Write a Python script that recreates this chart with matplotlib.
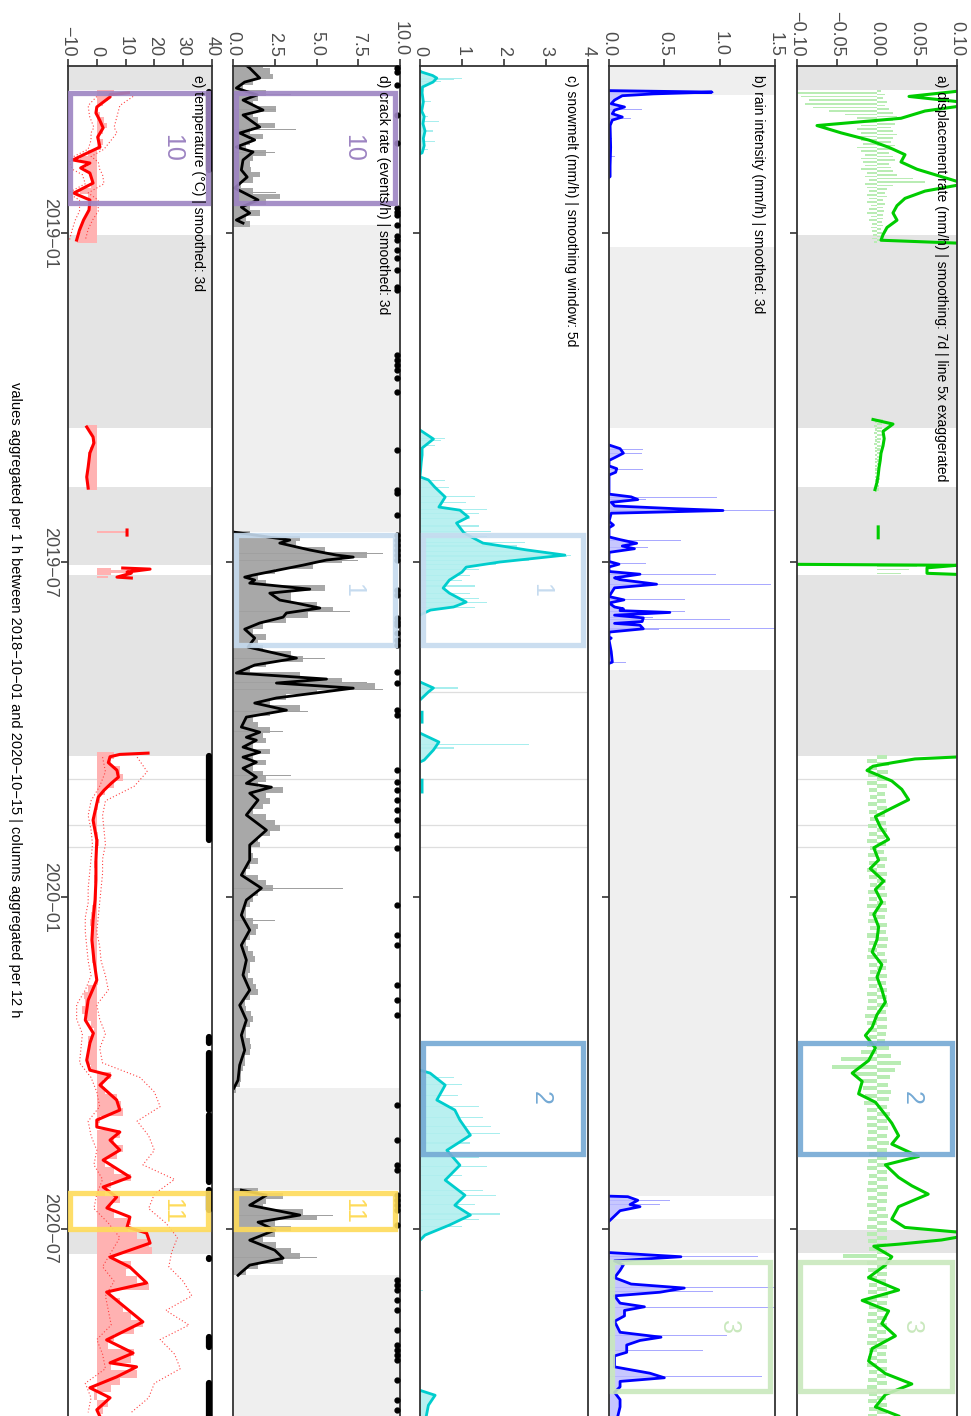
import numpy as np
import matplotlib.pyplot as plt
import matplotlib.transforms as mtransforms
from matplotlib.patches import Rectangle

plt.rcParams['font.family'] = ['Liberation Sans', 'DejaVu Sans']

nan = np.nan

# time runs down the page, in days since 2018-10-01
T0 = np.datetime64('2018-10-01')
DAY_END = 742.0
tick_dates = ['2019-01-01', '2019-07-01', '2020-01-01', '2020-07-01']
tick_labels = ['2019−01', '2019−07', '2020−01', '2020−07']
tick_days = [int((np.datetime64(d) - T0).astype(int)) for d in tick_dates]

caption = ('values aggregated per 1 h between 2018−10−01 and 2020−10−15 | '
           'columns aggregated per 12 h')

# ---------------- a) displacement rate (mm/h) ----------------
a_days = [13, 17, 21, 25, 29, 33, 37, 41, 45, 49, 53, 57, 61, 65, 69, 73, 77, 81, 85,
          89, 93, 96, 98, nan,
          194.5, 197, 201, 205, 209, 213, 217, 221, 225, 229, 233, nan,
          253.5, 259.5, nan,
          274.0, 274.6, 276, 279, 280, 282, nan,
          379.4, 381, 383, 385, 387.3, 393.1, 397.7, 403.4, 408, 412.6, 418.3, 425.2, 429.8,
          436.6, 441.2, 448.1, 452.7, 459.6, 466.4, 473.3, 480.2, 487.1, 494, 500.8, 507.7,
          514.6, 521.5, 528.4, 532.9, 539.8, 546.7, 553.6, 558.2, 565, 569.6, 576.5, 581.1,
          588, 592.6, 599.4, 604, 610.9, 615.5, 620.1, 627, 633.8, 638.4, 641.9, 645.3,
          647.6, 648.7, 654.5, 659.1, 665.9, 672.8, 678.5, 684.3, 691.2, 698, 704.9, 711.8,
          718.7, 724.4, 730.2, 737, 742]
a_rate = [0.025, 0.008, 0.025, 0.012, 0.006, -0.015, -0.009, -0.002, 0.003, 0.007, 0.006,
          0.010, 0.016, 0.022, 0.012, 0.007, 0.005, 0.004, 0.005, 0.0025, 0.0015, 0.001,
          0.025, nan,
          -0.001, 0.004, 0.0015, 0.0018, 0.0015, 0.001, 0.0008, 0.0005, 0.0003, 0.0, -0.0005, nan,
          0.0003, 0.0003, nan,
          -0.025, 0.02, 0.0125, 0.0125, 0.025, 0.025, nan,
          0.025, 0.0095, 0.004, -0.001, -0.0025, 0.0037, 0.0062, 0.0079, 0.0037, -0.0004,
          0.0008, 0.0029, -0.0008, 0.0004, -0.0017, 0.0017, -0.0004, 0.0012, -0.0008, 0.0004,
          0.0, -0.0012, 0.0012, 0.0, 0.0012, 0.0021, 0.0, -0.0012, -0.0029, -0.0004, -0.0021,
          -0.0062, -0.0037, -0.0046, -0.0004, 0.0021, 0.0037, 0.0054, 0.0037, 0.0104, 0.0021,
          0.0054, 0.0087, 0.0128, 0.0054, 0.0037, 0.007, 0.025, 0.0161, 0.0054, -0.0008,
          0.0037, 0.0021, -0.0021, 0.0054, -0.0037, 0.0029, 0.0012, 0.0046, -0.0012, -0.0021,
          0.0021, 0.0087, 0.0021, -0.0004, 0.0054]
# spread of the 12 h columns (upper / lower ends)
a_hi1 = [0.005, 0.01, 0.008, 0.012, 0.01, 0.015, 0.02,
         0.025, 0.02, 0.022, 0.018, 0.02, 0.025, 0.02, 0.018, 0.022, 0.02, 0.015, 0.02, 0.022,
         0.015, 0.018,
         0.02, 0.025, 0.045, 0.06, 0.02, 0.012, 0.01, 0.012, 0.008, 0.01, 0.008, 0.009, 0.007,
         0.008, 0.006, 0.007, 0.005, 0.006, 0.005, 0.004]
a_lo1 = [-0.1, -0.095, -0.085, -0.09, -0.08, -0.06, -0.04,
         -0.025, -0.03, -0.02, -0.025, -0.02, -0.03, -0.02, -0.018, -0.025, -0.02, -0.015,
         -0.02, -0.018, -0.015, -0.02,
         -0.012, -0.015, -0.01, -0.015, -0.012, -0.01, -0.013, -0.01, -0.012, -0.008, -0.01,
         -0.012, -0.008, -0.01, -0.006, -0.008, -0.006, -0.005, -0.006, -0.004]
a_hi2 = [0.008, 0.006, 0.006, 0.005, 0.006, 0.005, 0.004, 0.005, 0.004, 0.005, 0.004, 0.004,
         0.005, 0.004, 0.004, 0.003, 0.004, 0.003, 0.003, 0.003]
a_lo2 = [-0.003, -0.004, -0.003, -0.004, -0.003, -0.003, -0.004, -0.003, -0.003, -0.002,
         -0.003, -0.003, -0.002, -0.003, -0.002, -0.002, -0.003, -0.002, -0.002, -0.002]
a_cols3_days = [274.5, 275.5, 277, 279]
a_cols3 = [-0.1, 0.05, 0.04, 0.03]
a_hi4 = [0.012, 0.015, 0.014, 0.012, 0.013, 0.010, 0.011, 0.012, 0.010, 0.011,
         0.012, 0.010, 0.011, 0.009, 0.012, 0.010, 0.013, 0.011, 0.010, 0.012,
         0.011, 0.013, 0.010, 0.012, 0.011, 0.014, 0.012, 0.010, 0.013, 0.011,
         0.012, 0.011, 0.013, 0.012, 0.014, 0.011, 0.013, 0.012, 0.011, 0.010,
         0.015, 0.018, 0.030, 0.022, 0.016, 0.014, 0.018, 0.015, 0.013, 0.016,
         0.013, 0.014, 0.012, 0.015, 0.013, 0.012, 0.014, 0.013, 0.012, 0.014,
         0.012, 0.013, 0.011, 0.014, 0.012, 0.013, 0.012, 0.011, 0.013, 0.014,
         0.012, 0.013, 0.011, 0.012, 0.014, 0.012, 0.011, 0.013, 0.012, 0.011,
         0.012, 0.013, 0.011, 0.012, 0.013, 0.011, 0.012, 0.013, 0.011, 0.012, 0.012]
a_lo4 = [-0.012, -0.010, -0.011, -0.012, -0.010, -0.009, -0.011, -0.010, -0.009, -0.011,
         -0.010, -0.012, -0.009, -0.011, -0.010, -0.013, -0.010, -0.009, -0.011, -0.010,
         -0.012, -0.010, -0.011, -0.009, -0.012, -0.010, -0.011, -0.013, -0.010, -0.009,
         -0.011, -0.010, -0.012, -0.011, -0.013, -0.015, -0.012, -0.011, -0.010, -0.012,
         -0.020, -0.045, -0.056, -0.030, -0.020, -0.018, -0.015, -0.016, -0.013, -0.012,
         -0.012, -0.011, -0.013, -0.012, -0.010, -0.011, -0.012, -0.010, -0.011, -0.012,
         -0.011, -0.012, -0.010, -0.011, -0.013, -0.012, -0.011, -0.010, -0.042, -0.012,
         -0.011, -0.012, -0.010, -0.011, -0.012, -0.010, -0.011, -0.012, -0.010, -0.011,
         -0.012, -0.010, -0.011, -0.012, -0.010, -0.011, -0.012, -0.010, -0.011, -0.010, -0.011]
a_gaps = [(0, 13.5), (93, 199.2), (231.6, 274.5), (280, 379.4), (640, 652.6)]

# ---------------- b) rain intensity (mm/h) ----------------
b_days = [13.8, 14.6, 15.6, 16.6, 19, 21, 22.8, 24.5, 26.5, 28.3, 30, 33, 45, 55, 61, 61.5, nan,
          208.5, 210.5, 213, 215.5, 217, 220, 221.5, 223.5, 225, 235.5, 237, 238.5, 240, 242,
          243.5, 244.5, 246, 250.5, 252.5, 254, 259, 260.5, 262.5, 264, 265.5, 267.5, 272.5,
          274, 275.5, 278, 279.5, 281.5, 282.5, 285, 287, 291.8, 293.6, 295.3, 297.5, 298.5,
          299.5, 300.5, 302, 303.5, 305.5, 306.5, 307.5, 309.5, 311.3, 314, 314.6, 315.5,
          322, 327.8, 328.5, nan,
          621.2, 621.5, 623.5, 625.8, 627, 629.2, 632.7, 635, nan,
          652.2, 654.5, 656.8, 659, 662, 666, 669.5, 671.7, 674, 676, 680, 682, 684, 687, 690,
          696, 698.7, 700.5, 703, 707, 709, 715, 718.5, 721, 723, 726, 729, 733, 737, 742]
b_rain = [0, 0.93, 0.4, 0.12, 0.05, 0.02, 0.14, 0.05, 0.03, 0.12, 0.03, 0.01, 0.015, 0.01,
          0.01, 0, nan,
          0, 0.1, 0.13, 0.05, 0, 0, 0.07, 0.06, 0, 0, 0.2, 0.26, 0.02, 0.05, 0.6, 1.03, 0.02,
          0, 0.04, 0, 0, 0.1, 0.25, 0.12, 0.23, 0, 0, 0.09, 0, 0, 0.28, 0.05, 0.1, 0.43, 0.05,
          0, 0.135, 0, 0.05, 0.13, 0.1, 0.55, 0.05, 0.31, 0.3, 0.05, 0.28, 0.31, 0, 0, 0.02,
          0, 0.02, 0.03, 0, nan,
          0, 0.17, 0.26, 0.19, 0.28, 0.1, 0.04, 0, nan,
          0, 0.65, 0.05, 0.13, 0.1, 0.05, 0.2, 0.68, 0.46, 0.05, 0.1, 0.32, 0.14, 0.14, 0.05,
          0.1, 0.47, 0.28, 0.16, 0.16, 0.05, 0.05, 0.37, 0.5, 0.1, 0.1, 0.05, 0.1, 0.1, 0.08]
b_col_days = [14.6, 15, 22.8, 24, 28.3, 29, 40, 50,
              211, 213, 222, 237.5, 238.5, 244.5, 245, 261, 264, 265, 273.5, 279.5, 285, 286,
              293.6, 297.5, 299.7, 300, 303.5, 304.5, 309.5, 310, 327.8,
              623.5, 626, 654.2, 671.5, 673.5, 682.5, 698, 706, 720.5, 731]
b_cols = [0.6, 0.95, 0.4, 0.3, 0.3, 0.2, 0.03, 0.05,
          0.31, 0.3, 0.31, 0.98, 0.33, 1.6, 0.85, 0.65, 0.8, 0.35, 0.33, 0.97, 1.46, 0.45,
          0.69, 0.69, 1.6, 0.69, 0.4, 1.09, 1.6, 0.45, 0.15,
          0.55, 0.46, 1.35, 1.6, 0.94, 1.6, 1.07, 0.85, 1.38, 0.4]
b_gaps = [(0, 16), (99.7, 199.2), (332.2, 621.2), (634, 652.4)]

# ---------------- c) snowmelt (mm/h) ----------------
c_days = [3.0, 3.6, 5.5, 6.9, 9.1, 11.8, 15, 20, 25, 28, 32, 36, 40, 44, 48, 48.5, nan,
          200.3, 205.2, 210.2, 214, 217.9, 226, 227.7, 231.6, 237.1, 242.6, 244.3, 248.1,
          251.4, 256.9, 262.4, 266.2, 269, 270.6, 272.8, 275.6, 278.3, 282.7, 287.1, 289.9,
          294.8, 297.5, 299.2, 301.9, nan,
          338.7, 342, 344.2, 348.6, nan, 355.3, 360.8, nan,
          366.8, 371.7, 376.1, 381.6, 382.7, nan, 392.6, 399.2, nan,
          552, 553.6, 560.2, 568.4, 573.9, 579.4, 587.7, 596, 604.2, 612.4, 620.7, 626.2,
          631.6, 637.1, 642.6, 645.4, nan,
          727.9, 730.6, 736.1, 742]
c_melt = [0, 0.04, 0.3, 0.4, 0.31, 0.06, 0.05, 0.08, 0.04, 0.1, 0.07, 0.12, 0.08, 0.1, 0.05,
          0, nan,
          0, 0.32, 0.05, 0.05, 0.03, 0, 0.2, 0.35, 0.6, 0.45, 0.95, 1.15, 0.87, 1.05, 1.5,
          2.55, 3.45, 2.8, 1.9, 1.1, 1.0, 0.7, 0.55, 0.7, 1.1, 0.8, 0.25, 0.0, nan,
          0, 0.32, 0.2, 0, nan, 0.05, 0.05, nan,
          0, 0.45, 0.32, 0.1, 0, nan, 0.05, 0.05, nan,
          0, 0.24, 0.6, 0.4, 0.83, 0.95, 1.2, 0.64, 0.95, 0.6, 1.07, 0.83, 1.2, 0.7, 0.12, 0,
          nan,
          0, 0.36, 0.2, 0.15]
c_col_days = [6.9, 7.5, 9, 20, 28, 31, 36, 42, 46,
              205, 206, 209, 228, 232, 237, 240, 244, 246, 249, 253, 256, 259, 262, 264, 267,
              269, 270, 272, 274, 277, 280, 283, 286, 290, 293, 295, 298, 342, 373, 375,
              556, 560, 566, 572, 578, 583, 587, 592, 600, 605, 610, 618, 621, 626, 631, 634,
              638, 673]
c_cols = [1.0, 0.8, 0.5, 0.25, 0.2, 0.45, 0.3, 0.35, 0.2,
          0.6, 0.5, 0.35, 0.6, 0.7, 1.3, 1.1, 1.6, 1.4, 1.2, 1.4, 1.7, 1.6, 2.5, 2.3, 3.0,
          3.6, 3.5, 2.6, 1.8, 1.4, 1.2, 1.0, 1.3, 1.2, 1.4, 1.6, 1.3, 0.9, 2.6, 0.8,
          0.8, 1.0, 0.9, 1.4, 1.5, 1.7, 1.9, 1.2, 1.4, 1.6, 1.0, 1.5, 1.8, 1.3, 1.9, 1.4,
          1.0, 0.06]

# ---------------- d) crack rate (events/h) ----------------
d_days = [0, 1.4, 6.9, 9.1, 12.4, 16.2, 19, 24.5, 27.2, 33.8, 37.1, 40.9, 44.8, 47.5, 51.9,
          57.4, 61.3, 67.3, 73.9, 77.8, 81.1, 84.9, 86.6, nan,
          256.3, 260.7, 262.4, 266.2, 269, 270.1, 271.7, 274.5, 280, 281.1, 282.7, 284.4,
          287.7, 289.9, 293.7, 295.4, 298.1, 300.8, 303.1, 306.3, 309.7, 314.6, 319.5, 325.6,
          329.4, 333.8, 337.1, 339.3, 342.1, 347.5, 350.3, 354.2, 358, 363.5, 366.3, 369.1,
          370.7, 374.5, 377.3, 380, 382.8, 386.1, 391, 394.4, 396.5, 399.8, 403.6, 411.8,
          420.1, 428.3, 436.6, 444.8, 452, 458.5, 466.8, 475, 483.3, 491.5, 499.7, 508, 516.3,
          524.5, 532.8, 541, 549.2, 557.5, 561.9, nan,
          617.9, 620.7, 626.2, 631.6, 635.5, 639.9, 645.4, 650.9, 655.3, 659.1, 663, 664.7]
d_rate = [0.8, 1.0, 1.6, 0.7, 0.2, 1.45, 0.6, 1.8, 0.6, 1.6, 0.4, 1.3, 0.2, 1.2, 0.6, 0.5,
          0.85, 0.1, 1.5, 0.5, 1.0, 0.2, 0.6, nan,
          0.0, 3.4, 2.8, 4.6, 6.2, 7.2, 5.6, 4.2, 1.2, 0.7, 1.3, 1.0, 4.6, 2.2, 2.8, 3.8, 5.2,
          3.2, 3.0, 1.6, 0.7, 1.3, 0.9, 3.8, 1.3, 0.2, 5.6, 2.6, 7.2, 2.6, 1.3, 3.2, 0.8, 0.5,
          1.6, 0.8, 1.4, 0.6, 1.6, 0.6, 1.4, 0.6, 1.4, 0.8, 2.3, 1.0, 1.5, 0.8, 2.0, 1.0, 1.0,
          0.5, 1.7, 0.8, 0.5, 1.0, 0.5, 0.8, 0.6, 1.0, 0.4, 0.8, 0.5, 0.7, 0.4, 0.3, 0.05, nan,
          0.5, 2.0, 1.0, 4.0, 1.5, 2.5, 1.0, 2.5, 3.0, 1.0, 0.5, 0.3]
d_cols1 = [1.8, 2.2, 2.4, 1.2, 0.6, 2.0, 1.5, 1.2, 2.6, 1.2, 1.5, 2.5, 1.0, 1.8, 1.0, 0.8,
           2.0, 1.2, 1.0, 1.1, 1.6, 1.2, 0.5, 1.2, 2.8, 2.0, 1.0, 1.6, 0.8, 1.0]
d_cols2 = [1.0, 4.0, 3.8, 5.5, 8.0, 6.5, 4.8, 2.5, 1.5, 2.0, 5.5, 3.5, 3.5, 5.0, 6.0, 4.5,
           3.2, 1.8, 1.2, 2.0, 1.5, 1.8, 3.5, 4.2, 2.0, 1.0, 4.0, 6.5, 8.5, 5.0, 3.2, 2.2,
           4.0, 2.2, 1.2, 1.5, 2.2, 1.8, 2.0, 1.2, 2.2, 1.2, 2.0, 1.2, 1.8, 2.0, 1.5, 3.0,
           2.0, 2.2, 1.8, 1.2, 2.0, 2.5, 2.8, 2.2, 1.5, 1.6, 1.0, 1.2, 1.5, 1.0, 0.8, 1.5,
           2.0, 2.4, 1.5, 1.2, 1.0, 0.8, 0.8, 1.2, 1.5, 1.4, 1.0, 0.8, 0.9, 1.2, 1.3, 1.0,
           1.0, 0.9, 1.2, 1.4, 1.5, 1.0, 0.7, 0.8, 1.1, 1.2, 1.0, 0.8, 0.8, 1.0, 1.1, 1.0,
           0.7, 0.7, 0.6, 0.5, 0.5, 0.4, 0.2]
d_cols3 = [1.5, 3.0, 2.0, 1.8, 4.2, 5.0, 2.5, 3.5, 2.5, 1.8, 2.6, 3.5, 4.0, 3.0, 1.5, 0.8]
d_spike_days = [16, 24, 35, 48, 70, 268, 272, 300, 326, 339, 343, 355, 366, 390, 452, 470,
                632, 655]
d_spikes = [3.5, 2.6, 3.8, 2.5, 2.6, 9.0, 7.5, 7.0, 5.5, 8.0, 9.0, 4.5, 3.0, 3.5, 6.6, 2.5,
            6.0, 5.0]
d_events = [1.4, 3.6, 10.7, 27.2, 42.6, 78.3, 80.5, 82.2, 87.7, 93.7, 95.9, 101.4, 105.8,
            112.4, 121.7, 123.4, 159.1, 161.9, 164.6, 167.3, 171.7, 179.4, 211.3, 233.3,
            234.9, 247, 258, 260.7, 263.5, 266.2, 269, 271.7, 288.2, 290.9, 303.6, 305.8,
            307.4, 311.8, 315.7, 318.4, 333.3, 339.3, 354.2, 357, 387.2, 393.8, 398.2, 403.6,
            409.1, 414.6, 422.9, 430, 461.3, 477.8, 483.3, 505.3, 513.5, 521.7, 571.2, 590.4,
            604.2, 606.9, 620.7, 623.4, 626.2, 628.9, 637.1, 667.3, 670.1, 672.9, 678.3,
            683.8, 694.8, 703, 705.8, 708.6, 711.3, 722.3, 733.3, 738.8]
d_gaps = [(87.6, 256.3), (561.9, 617.9), (664.7, DAY_END)]

# ---------------- e) temperature (°C) ----------------
e_days = [15.0, 16.0, 17.3, 22.8, 26.1, 30, 34.3, 39.3, 44.8, 49.2, 51.9, 53.6, 56.3, 59.1,
          64.6, 70.1, 73.9, 79.4, 84.9, 90.4, 95.9, nan,
          198.6, 204.1, 207.4, 212.9, 220.6, 226.1, 232.2, nan,
          255.2, 258, nan,
          276.1, 276.7, 278.3, 278.9, 281.1, 281.6, nan,
          377.8, 378.5, 379.8, 383, 387.2, 391, 394.4, 398.2, 402, 414.6, 425.6, 436.6, 447.6,
          458.5, 469.5, 480.5, 491.5, 502.5, 513.5, 524.5, 531.7, 537.1, 546.5, 552, 554.8,
          560.2, 568.4, 573.9, 579.4, 583.2, 586, 590.4, 595.9, 601.4, 610.7, 616.2, 621.7,
          627.7, 632.7, 638.2, 641.5, 647, 654.7, 660.2, 668.9, 673.9, 679.9, 690.3, 700.2,
          707.4, 712.8, 715, 720.5, 726.5, 732, 738.6, 742]
e_temp = [11.0, 4.6, 4.6, 0, -0.3, 1.0, 2.2, 0.3, 1.1, -4.8, -8.3, -2.4, -5.6, -2.4, -1.3,
          -8.0, -2.4, -2.7, -4.6, -6.0, -7.0, nan,
          -3.5, -1.3, -1.0, -2.4, -3.0, -3.5, -3.0, nan,
          10.5, 10.5, nan,
          9, 18.5, 10.5, 12, 7, 12, nan,
          17.8, 8, 4.6, 4.0, 7.0, 7.5, 5.0, 2.5, 0.5, -1.3, 0, -0.3, -0.3, -0.6, -1.3, -1.7,
          -1.0, 0, -3.0, -4.0, -1.2, -2.4, -3.5, -2.4, 4.6, 1.1, 6.9, 8.0, 0, 0, 8, 4.6, 8,
          2.2, 11.5, 2.2, 6.9, 3.5, 11.5, 10.5, 17.3, 18.5, 4.6, 11.5, 17.3, 3.4, 8, 16, 3.4,
          12.6, 4.6, 13.8, 6.9, -2.4, 4.6, 0, 1]
e_cols1 = [6, 4, 2, 0.5, 1, 2.5, 3.5, 2, 1, 2, 1.5, -3, -6, -3.5, -4, -2, -1.5, -2, -6, -3,
           -2.5, -2.5, -3.5, -4, -5, -5.5, -6.5, -7]
e_cols2 = [-3, -2, -1.5, -1.5, -2.5, -3, -3, -3.2, -3.5, -3.5, -3.2, -3]
e_cols3_days = [256.5, 276.5, 278, 279.5, 281]
e_cols3 = [10.5, 5, 12, 5, 4]
e_cols4 = [6, 5, 8, 9, 6, 3, 1, 0.5, -1, -1.5,
           -1, 0.5, 0.8, 0, -0.5, -0.8, -0.5, -1, -0.5, -0.8,
           -1, -1.5, -2, -2.5, -2, -1.5, -2, -1, -1.5, -0.5,
           0, 0.5, -3, -4.5, -4, -5, -3.5, -2, -1, -3,
           -2.5, -3.5, -3, -2, 5, 2, 3, 7, 8.5, 9,
           1, 0, 8, 6, 9, 7, 3, 6, 12, 5,
           3, 8, 5, 6, 12, 11, 14, 18, 19, 6,
           12, 10, 14, 18, 5, 8, 9, 12, 16, 13,
           6, 4, 13, 12, 5, 14, 8, 5, -1, 4, 2]
e_max1_days = [17, 22, 28, 34, 37, 41, 46, 50, 53, 57, 60, 65, 70, 74, 80, 85, 90, 96]
e_max1 = [12.6, 8, 7, 6, 7, 5, 2.5, -2, 0.5, 1, 2, 2.5, -3, 0.5, 0.5, -1.5, -3, -4]
e_min1 = [0, -3, -2.5, -1, -2, -2, -3, -8, -9.5, -8.5, -5, -4, -10, -6, -6, -7.5, -8.5, -9.5]
e_max3 = [14, 17.5, 13, 3, 2, 2.5, 3, 2, 2, 1.5, 1, 0.5, 0, 1, 1.5, 3, 4, 0, 1, 3, 1, 2, 15,
          20, 22, 14, 18, 20, 16, 27, 20, 18, 24, 28, 26, 25, 30, 33, 24, 32, 22, 27, 29, 20,
          18, 12]
e_min3 = [2, 3, 1, -2, -3, -2, -1.5, -2, -2.5, -3, -3, -4, -4, -3.5, -3, -2, -4, -7, -7, -5,
          -5.5, -6, -2, 0, 1, -3, -2, 0, -1, 2, 0, -1, 4, 8, 5, 2, 6, 3, 4, 5, 0, 2, 3, -4,
          -2, -3]
e_event_runs = [(14.6, 27.0), (28.0, 57.4), (379.4, 425.6), (533.9, 537.2), (542.7, 573.9),
                (576.7, 613.5), (618.0, 628.9), (655.0, 655.6), (698.6, 704.1),
                (723.9, 742.0)]
e_gaps = [(0, 13.5), (93, 199.2), (231.6, 274.5), (280, 379.4), (640, 653)]

# short data breaks drawn as hairlines across the panels
break_days = [392, 417.2, 429.3]

# highlighted periods: (label, start day, end day, colour, panels)
events = [('10', 15.1, 75.5, '#9d84c2', 'de'),
          ('1', 258.0, 318.4, '#c6dbef', 'cd'),
          ('2', 537.0, 598.0, '#74a9d4', 'ac'),
          ('3', 657.5, 728.5, '#c9e8bd', 'ab'),
          ('11', 619.5, 639.0, '#fedb5a', 'de')]


def seg(start, step, vals):
    return start + step * np.arange(len(vals))


W, H = 971, 1416
fig = plt.figure(figsize=(W / 100, H / 100), dpi=100)
TOP = 65.5

panel_specs = {
    'e': (68, 212, (-10, 40), [-10, 0, 10, 20, 30, 40], ['−10', '0', '10', '20', '30', '40'],
          'e) temperature (°C) | smoothed: 3d'),
    'd': (233, 400, (0, 10), [0, 2.5, 5, 7.5, 10], ['0.0', '2.5', '5.0', '7.5', '10.0'],
          'd) crack rate (events/h) | smoothed: 3d'),
    'c': (420, 588, (0, 4), [0, 1, 2, 3, 4], ['0', '1', '2', '3', '4'],
          'c) snowmelt (mm/h) | smoothing window: 5d'),
    'b': (609, 775, (0, 1.5), [0, 0.5, 1.0, 1.5], ['0.0', '0.5', '1.0', '1.5'],
          'b) rain intensity (mm/h) | smoothed: 3d'),
    'a': (797, 957, (-0.1, 0.1), [-0.1, -0.05, 0, 0.05, 0.1],
          ['−0.10', '−0.05', '0.00', '0.05', '0.10'],
          'a) displacement rate (mm/h) | smoothing: 7d | line 5x exaggerated'),
}

axes = {}
for key, (x0, x1, xlim, xt, xtl, title) in panel_specs.items():
    ax = fig.add_axes([x0 / W, 0, (x1 - x0) / W, (H - TOP) / H])
    ax.set_xlim(xlim)
    ax.set_ylim(DAY_END, 0)
    ax.xaxis.tick_top()
    ax.set_xticks(xt, xtl)
    ax.set_yticks(tick_days, tick_labels if key == 'e' else [])
    ax.tick_params(axis='x', labelrotation=-90, labelsize=13, length=5, width=1.2,
                   color='#333333', labelcolor='#4d4d4d', pad=1.5)
    ax.tick_params(axis='y', labelrotation=-90, labelsize=13, length=5, width=1.2,
                   color='#333333', labelcolor='#4d4d4d', pad=2)
    for lbl in ax.get_yticklabels():
        lbl.set_va('center')
    for side in ('top', 'left', 'right'):
        ax.spines[side].set_color('#333333')
        ax.spines[side].set_linewidth(1.3)
    ax.spines['bottom'].set_visible(False)
    trans = mtransforms.blended_transform_factory(ax.transAxes, ax.transData)
    ax.text(0.9, 5, title, transform=trans, rotation=-90, ha='center', va='top',
            fontsize=10, color='black', zorder=10)
    for d in break_days:
        ax.axhline(d, color='#dedede', lw=0.9, zorder=0.2)
    axes[key] = (ax, trans)

# gaps without data
for key, gaps, col in (('a', a_gaps, '#e4e4e4'), ('e', e_gaps, '#e4e4e4'),
                       ('b', b_gaps, '#efefef'), ('d', d_gaps, '#efefef')):
    ax = axes[key][0]
    for g0, g1 in gaps:
        ax.axhspan(g0, g1, color=col, lw=0, zorder=0.3)
axes['c'][0].axhline(344, color='#dedede', lw=0.9, zorder=0.2)

# a) displacement: column spread, then the exaggerated smoothed line
ax = axes['a'][0]
green_col = '#b9ecb4'
for start, step, hi, lo, fill in ((14, 2, a_hi1, a_lo1, 0.45), (195, 2, a_hi2, a_lo2, 0.6),
                                  (380, 4, a_hi4, a_lo4, 0.55)):
    ax.barh(seg(start, step, hi), hi, height=step * fill, color=green_col, lw=0)
    ax.barh(seg(start + step / 2, step, lo), lo, height=step * fill, color=green_col, lw=0)
ax.barh(a_cols3_days, a_cols3, height=0.6, color=green_col, lw=0)
ax.plot(5 * np.array(a_rate), a_days, color='#00cc00', lw=2.2, solid_joinstyle='round')

# b) rain
ax = axes['b'][0]
ax.barh(b_col_days, b_cols, height=0.5, color='#a9a9ff', lw=0)
ax.fill_betweenx(b_days, 0, b_rain, color='#b9b9ff', alpha=0.8, lw=0)
ax.plot(b_rain, b_days, color='#0000ff', lw=2.0, solid_joinstyle='round')

# c) snowmelt
ax = axes['c'][0]
ax.barh(c_col_days, c_cols, height=0.6, color='#a8eeee', lw=0)
ax.fill_betweenx(c_days, 0, c_melt, color='#b2efef', alpha=0.9, lw=0)
ax.plot(c_melt, c_days, color='#00cdcd', lw=2.0, solid_joinstyle='round')

# d) crack rate
ax = axes['d'][0]
ax.barh(seg(0, 3, d_cols1), d_cols1, height=3, color='#a8a8a8', lw=0)
ax.barh(seg(257, 3, d_cols2), d_cols2, height=3, color='#a8a8a8', lw=0)
ax.barh(seg(618, 3, d_cols3), d_cols3, height=3, color='#a8a8a8', lw=0)
ax.barh(d_spike_days, d_spikes, height=0.5, color='#a0a0a0', lw=0)
ax.plot(d_rate, d_days, color='black', lw=2.0, solid_joinstyle='round')
ax.plot(np.full(len(d_events), 9.82), d_events, 'o', ms=3.5, color='black', clip_on=False,
        zorder=6)

# e) temperature
ax = axes['e'][0]
ax.barh(seg(15, 3, e_cols1), e_cols1, height=3, color='#ffb2b2', lw=0)
ax.barh(seg(199, 3, e_cols2), e_cols2, height=3, color='#ffb2b2', lw=0)
ax.barh(e_cols3_days, e_cols3, height=1.2, color='#ffb2b2', lw=0)
ax.barh(seg(379, 4, e_cols4), e_cols4, height=4, color='#ffb2b2', lw=0)
ax.plot(e_max1, e_max1_days, color='#ff4040', lw=0.8, ls=(0, (1, 2)))
ax.plot(e_min1, e_max1_days, color='#ff4040', lw=0.8, ls=(0, (1, 2)))
ax.plot(e_max3, seg(380, 8, e_max3), color='#ff4040', lw=0.8, ls=(0, (1, 2)))
ax.plot(e_min3, seg(380, 8, e_min3), color='#ff4040', lw=0.8, ls=(0, (1, 2)))
ax.plot(e_temp, e_days, color='#ff0000', lw=2.2, solid_joinstyle='round')
ax.vlines(np.full(len(e_event_runs), 38.9), [r[0] for r in e_event_runs],
          [r[1] for r in e_event_runs], color='black', lw=4.5, capstyle='round', zorder=6)

# highlighted periods
for label, t0, t1, col, keys in events:
    for key in keys:
        ax, trans = axes[key]
        ax.add_patch(Rectangle((0.016, t0), 0.955, t1 - t0, transform=trans, fill=False,
                               ec=col, lw=3.8, alpha=0.9, zorder=7))
        ax.text(0.72, (t0 + t1) / 2, label, transform=trans, rotation=-90, ha='center',
                va='center', fontsize=18, color=col, zorder=8)

fig.text(15 / W, 1 - 700 / H, caption, rotation=-90, ha='center', va='center',
         fontsize=10.5, color='black')

fig.savefig('out.png', dpi=100)
